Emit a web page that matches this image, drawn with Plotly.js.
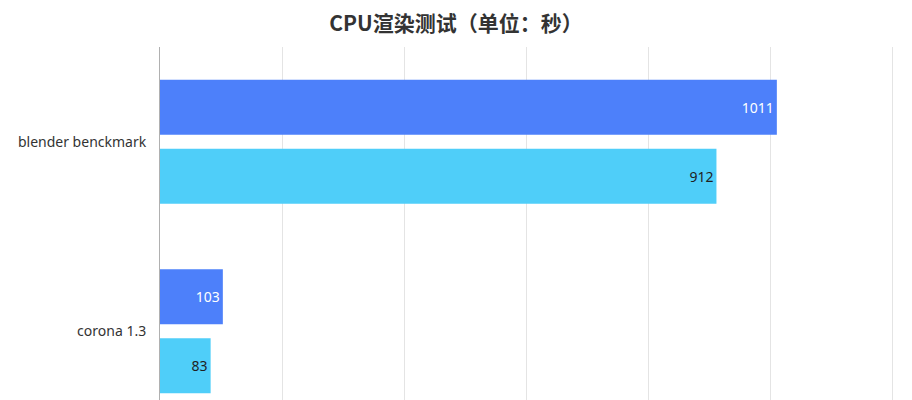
<!DOCTYPE html>
<html>
<head>
<meta charset="utf-8">
<script src="https://cdn.plot.ly/plotly-3.0.1.min.js"></script>
<style>
  html, body { margin: 0; padding: 0; background: #fff; overflow: hidden; }
  #chart { width: 912px; height: 400px; }
</style>
</head>
<body>
<div id="chart"></div>
<script>
// CPU render test, seconds
const categories = ['blender benckmark', 'corona 1.3'];
const seriesA = [1011, 103];
const seriesB = [912, 83];
const xTicks = [0, 200, 400, 600, 800, 1000, 1200];

const FONT = '"Noto Sans", "Noto Sans CJK SC", sans-serif';

const traces = [
    {
        type: 'bar',
        orientation: 'h',
        y: categories,
        x: seriesA,
        text: seriesA.map(String),
        textposition: 'inside',
        insidetextanchor: 'end',
        textfont: { family: FONT, size: 14, color: '#ffffff' },
        marker: { color: '#4d80fa' },
        hoverinfo: 'x+y',
        cliponaxis: false,
    },
    {
        type: 'bar',
        orientation: 'h',
        y: categories,
        x: seriesB,
        text: seriesB.map(String),
        textposition: 'inside',
        insidetextanchor: 'end',
        textfont: { family: FONT, size: 14, color: '#1f1f1f' },
        marker: { color: '#4fcef9' },
        hoverinfo: 'x+y',
        cliponaxis: false,
    },
];

const layout = {
    width: 912,
    height: 400,
    margin: { l: 160, r: 18, t: 47, b: 0, pad: 0 },
    paper_bgcolor: '#ffffff',
    plot_bgcolor: '#ffffff',
    showlegend: false,
    barmode: 'group',
    bargap: 0.272,
    bargroupgap: 0.203,
    title: {
        text: '<b>CPU渲染测试（单位：秒）</b>',
        font: { family: '"Noto Sans CJK SC", sans-serif', size: 21, color: '#333333' },
        x: 0.5,
        xref: 'container',
        xanchor: 'center',
        y: 0.94,
        yref: 'container',
        yanchor: 'middle',
    },
    xaxis: {
        // a little past 1200 so the last grid line is still drawn
        range: [0, 1203],
        tickvals: xTicks,
        showticklabels: false,
        showgrid: true,
        gridcolor: '#e4e4e4',
        gridwidth: 1,
        zeroline: false,
        showline: false,
        fixedrange: true,
    },
    yaxis: {
        type: 'category',
        // reversed so the first category sits on top; bottom is cut off like the source
        range: [1.363, -0.5],
        showgrid: false,
        zeroline: false,
        showline: true,
        linecolor: '#b0b0b0',
        linewidth: 1,
        ticks: '',
        ticklabelstandoff: 10,
        tickfont: { family: FONT, size: 14, color: '#333333' },
        fixedrange: true,
    },
};

Plotly.newPlot('chart', traces, layout, { displayModeBar: false, staticPlot: true });
</script>
</body>
</html>
